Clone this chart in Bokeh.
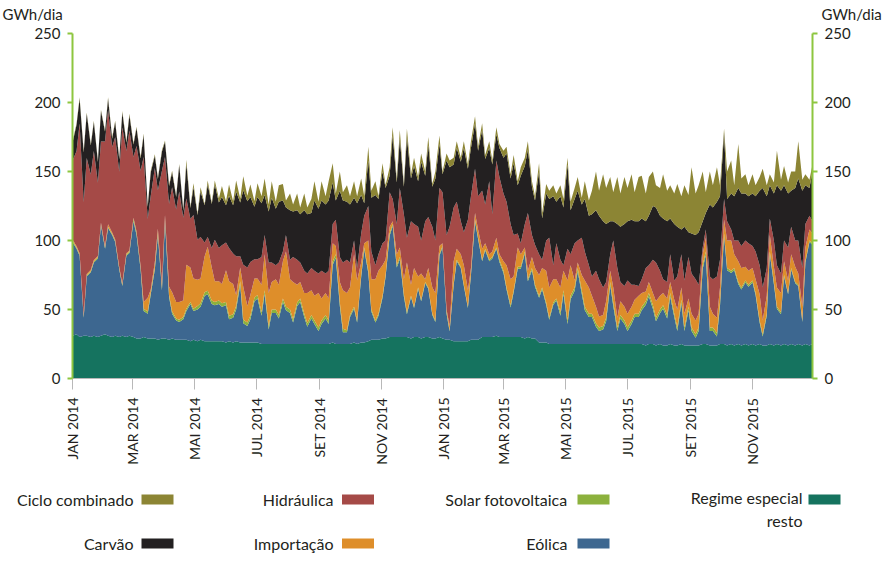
import numpy as np
import pandas as pd
from bokeh.plotting import figure
from bokeh.models import ColumnDataSource, FixedTicker, LinearAxis, Range1d
from bokeh.embed import file_html
from bokeh.resources import INLINE
from bokeh.core.properties import value

# ---------------- DATA (GWh/dia, read on Wednesdays and Sundays) ----------------
wednesdays = pd.date_range("2014-01-01", "2015-12-30", freq="W-WED")
sundays = pd.date_range("2014-01-05", "2015-12-27", freq="W-SUN")
dates = wednesdays.union(sundays)

regime = [
    31,32,30,31,31,30,31,30,31,32, 31,30,31,30,31,30,31,30,29,29, 30,29,29,29,28,29,29,28,29,28,
    28,28,28,27,28,27,28,27,27,27, 27,27,27,26,27,26,27,26,26,26, 26,26,26,
    25,25,25,25,25,25,25,25,25,25, 25,25,25,25,25,25,25,25,25,25,
    26,25,25,25,25,25,26,25,26,26, 27,28,28,28,29,29,30,30,30,30, 30,30,29,30,30,29,30,30,29,29, 30,29,28,28,
    27,27,27,27,27,28,28,28,30,30, 30,30,31,30,30,30,30,30,30,30, 29,30,29,29,26,26,26,25,25,25, 25,
    25,25,25,25,25,25,25,25,25,25, 25,25,25,25,25,25,25,25,25,25, 25,25,
    25,24,25,25,24,25,24,24,25,24, 24,25,24,24,24,24,24,25,25,24, 24,24,25,25,24,25,24,25,24,25,
    24,25,24,25,24,24,25,24,25,24, 25,24,25,24,25,24,25,24,25]

eolica = [
    68,62,59,13,43,47,53,57,80,62, 78,74,68,49,36,59,60,84,75,50, 19,18,32,50,76,35,85,31,18,14,
    13,15,21,27,21,23,24,33,34,27, 26,27,25,27,16,18,23,42,14,12, 17,30,32,
    20.5,36.5,10.5,22.5,22.5,18.5,30.5,24.5,22.5,15.5, 27.5,30.5,19.5,12.5,18.5,14.5,9.5,14.5,18.5,14.5,
    56.5,62.5,27.5,8.5,8.5,19.5,24.5,15.5,47.5,67.5, 49.5,20.5,12.5,17.5,29.5,44.5,73.5,80.5,50.5,56.5,
    29.5,16.5,30,21,35,27,39,35,17,12, 59,66,19,6,
    41,58,53,40,24,47,86,73,55,63, 55,57,63,54.5,46.5,34.5,21.5,32.5,49.5,49.5,
    61.5,40.5,49.5,37.5,32.5,38.5,27.5,17.5,28.5,31.5, 20.5,36.5,14.5,32.5,38.5,52.5,36.5,24.5,19.5,19.5,
    12.5,9.5,10.5,16.5,42.5,27.5,9.5,18.5,14.5,9.5, 14.5,19.5,19.5,
    24.5,29.5,34.5,25.5,17.5,22.5,26.5,19.5,34.5,20.5, 10.5,29.5,10.5,25.5,10.5,5.5,10.5,54.5,64.5,10.5,
    10.5,6.5,27.5,78.5,54.5,51.5,54.5,43.5,40.5,44.5, 42.5,44.5,36.5,15.5,6.5,21.5,65.5,44.5,25.5,22.5,
    49,37,54,45,42,17,59,75,72]

solar = [
    0.8,0.8,0.8,0.8,0.8,0.8,0.8,0.8,0.8,0.8, 0.8,0.8,0.8,0.8,0.8,0.8,0.8,
    1.5,1.5,1.5,1.5,1.5,1.5,1.5,1.5,1.5,1.5, 1.5,1.5,1.5,1.5,1.5,1.5,1.5,1.5,
    2.5,2.5,2.5,2.5,2.5,2.5,2.5,2.5,2.5,2.5, 2.5,2.5,2.5,2.5,2.5,2.5,2.5,2.5,
    2.5,2.5,2.5,2.5,2.5,2.5,2.5,2.5,2.5,2.5, 2.5,2.5,2.5,2.5,2.5,2.5,2.5,2.5,2.5,2.5, 2.5,2.5,2.5,2.5,
    1.5,1.5,1.5,1.5,1.5,1.5,1.5,1.5,1.5,1.5, 1.5,1.5,1.5,1.5,1.5,1.5,1.5,1.5,
    1,1,1,1,1,1,1,1,1,1, 1,1,
    1,1,1,1,1,1,1,1,1,1, 1,1,1,
    1.5,1.5,1.5,1.5,1.5,1.5,1.5,1.5,1.5,1.5, 1.5,1.5,1.5,1.5,1.5,1.5,1.5,
    2.5,2.5,2.5,2.5,2.5,2.5,2.5,2.5,2.5,2.5, 2.5,2.5,2.5,2.5,2.5,2.5,2.5,2.5,2.5,2.5, 2.5,2.5,2.5,
    2.5,2.5,2.5,2.5,2.5,2.5,2.5,2.5,2.5,2.5, 2.5,2.5,2.5,2.5,2.5,2.5,2.5,2.5,2.5,2.5, 2.5,2.5,2.5,
    1.5,1.5,1.5,1.5,1.5,1.5,1.5,1.5,1.5,1.5, 1.5,1.5,1.5,1.5,1.5,1.5,1.5,
    1,1,1,1,1,1,1,1,1]

importacao = [
    1,1,1,1,1,1,1,1,1,1, 2,1,1,1,1,1,1,1,1,1, 5,10,2,4,3,3,3,6,14,12,
    13,12,32,25,22,19,18,26,32,24, 15,14,14,23,25,22,8,10,24,12, 15,14,12,
    20,26,24,20,22,22,27,40,22,27, 13,12,15,22,18,18,25,16,16,16, 13,6,15,28,27,20,38,29,9,3,
    22,22,30,31,22,11,5,2,8,7, 11,36,8,28,8,19,2,14,19,20, 6,2,2,3,
    16,8,9,14,12,4,5,6,8,4, 4,4,7,4,7,16,19,10,14,9, 3,6,8,12,15,14,23,22,17,14,
    18,14,29,22,5,4,11,19,19,13, 12,8,8,12,8,11,7,10,10,10, 10,10,13,
    10,7,8,9,12,10,9,12,8,10, 13,9,10,6,10,10,10,8,10,15, 10,11,11,10,20,22,10,15,14,10,
    10,9,10,19,10,13,12,11,14,14, 10,9,10,11,8,10,10,8,7]

hidraulica = [
    57,69,94,82,84,69,79,53,59,76, 83,62,74,69,113,74,87,44,62,69, 105,57,68,68,28,82,42,60,76,67,
    80,60,48,35,46,29,30,10,7,14, 30,24,28,20,24,22,28,8,16,28, 24,14,14,
    20,14,22,14,10,16,7,12,14,18, 18,14,16,14,16,18,14,20,14,20, 14,19,18,20,24,18,10,9,21,20,
    25,20,10,12,16,14,25,16,22,43, 47,18,46,32,36,24,42,37,44,38, 42,37,54,72,
    39,34,24,24,51,52,32,24,42,28, 53,27,56,56,49,46,40,30,10,8, 17,42,16,17,15,6,22,36,10,26,
    20,4,23,8,27,16,27,21,16,14, 26,27,20,14,12,34,36,14,15,24, 16,11,7,
    10,17,12,24,28,18,10,12,20,14, 24,24,24,30,29,30,21,5,6,22, 25,30,20,15,14,8,10,15,16,19,
    20,16,20,21,24,20,12,19,16,14, 15,24,20,19,24,28,17,10,9]

carvao = [
    13,19,18,36,32,21,21,15,22,7, 8,6,11,9,11,6,11,9,13,9, 16,9,17,9,8,14,11,13,11,9,
    19,5,25,8,20,18,33,27,38,32, 40,33,35,27,38,35,47,39,54,48, 47,38,45,
    39,29,37,47,41,44,37,20,36,33, 36,35,44,43,40,51,47,51,50,51, 30,14,48,45,42,42,31,47,28,9,
    33,39,51,40,52,38,12,46,30,36, 20,73,31,42,33,57,33,52,29,45, 32,13,54,43,
    31,39,43,61,37,35,33,33,44,33, 24,36,19,21,26,35,33,52,35,49, 42,46,35,32,60,30,34,28,50,30,
    46,42,61,32,32,36,24,38,36,45, 44,46,48,42,24,14,32,40,45,43, 47,46,47,
    44,34,36,39,40,40,44,44,26,41, 36,18,39,18,29,32,38,19,12,52, 52,54,46,48,16,26,32,38,38,34,
    34,38,40,54,72,52,24,34,58,60, 40,39,26,38,45,56,28,20,36]

ciclo = [
    1,1,1,1,1,1,1,1,1,1, 1,1,1,1,1,1,1,1,1,1, 1,1,1,1,1,1,1,1,1,1,
    1,1,3,1,3,1,3,1,3,1, 3,3,8,3,8,3,8,3,10,4, 9,4,10,
    5,12,5,12,5,12,12,5,12,5, 12,5,12,5,10,14,5,14,6,14, 14,5,14,6,12,6,12,5,12,5,
    10,5,10,2,6,2,6,6,3,6, 2,6,3,6,3,6,3,6,2,5, 6,2,5,5,
    5,5,3,5,3,5,5,3,5,3, 5,3,5,3,5,5,3,6,3,6, 6,6,4,3,6,4,7,6,8,6,
    8,6,5,6,8,10,5,13,11,17, 28,18,34,26,32,21,34,24,34,24, 33,21,32,
    31,20,28,25,16,20,32,22,24,22, 31,24,30,27,48,30,34,36,15,24, 16,25,8,3,20,24,8,32,11,14,
    8,14,8,10,14,8,8,8,25,8, 14,8,14,12,27,8,8,6,5]

series_keys = ["regime", "eolica", "solar", "importacao", "hidraulica", "carvao", "ciclo"]
series_names = ["Regime especial resto", "Eólica", "Solar fotovoltaica", "Importação",
                "Hidráulica", "Carvão", "Ciclo combinado"]
series_colors = ["#15735F", "#3D6790", "#8CB13D", "#DE8E2A", "#A54A47", "#232021", "#8C8534"]

tick_dates = ["2014-01-01", "2014-03-01", "2014-05-01", "2014-07-01", "2014-09-01", "2014-11-01",
              "2015-01-01", "2015-03-01", "2015-05-01", "2015-07-01", "2015-09-01", "2015-11-01"]
tick_labels = ["JAN 2014", "MAR 2014", "MAI 2014", "JUL 2014", "SET 2014", "NOV 2014",
               "JAN 2015", "MAR 2015", "MAI 2015", "JUL 2015", "SET 2015", "NOV 2015"]
y_ticks = [0, 50, 100, 150, 200, 250]
unit_label = "GWh/dia"

# ---------------- STYLE ----------------
FONT = "Lato"
TXT = "#231f20"
GREEN = "#8DC63F"
W = 884

# ---------------- UNIT LABELS STRIP ----------------
pt = figure(width=W, height=25, x_range=Range1d(0, W), y_range=Range1d(25, 0),
            output_backend="svg", toolbar_location=None, min_border=0,
            x_axis_location=None, y_axis_location=None)
pt.outline_line_color = None
pt.grid.visible = False
pt.text(x=[2, 821], y=[13, 13], text=[unit_label, unit_label], text_align="left",
        text_baseline="middle", text_font=value(FONT), text_font_size="15px", text_color=TXT)

# ---------------- MAIN CHART ----------------
data = dict(date=dates, regime=regime, eolica=eolica, solar=solar, importacao=importacao,
            hidraulica=hidraulica, carvao=carvao, ciclo=ciclo)
source = ColumnDataSource(data)

x_start = pd.Timestamp("2014-01-01")
x_end = pd.Timestamp("2015-12-30")

p = figure(width=W, height=445, x_axis_type="datetime",
           x_range=Range1d(x_start, x_end), y_range=Range1d(0, 250),
           output_backend="svg", toolbar_location=None, title=None,
           min_border_left=72, min_border_right=72, min_border_top=8, min_border_bottom=92)
p.outline_line_color = None
p.xgrid.visible = False
p.ygrid.visible = False

p.varea_stack(stackers=series_keys, x="date", color=series_colors, source=source)

tick_ms = [int(pd.Timestamp(d).value // 10**6) for d in tick_dates]
xa = p.xaxis[0]
xa.ticker = FixedTicker(ticks=tick_ms)
xa.major_label_overrides = {t: l for t, l in zip(tick_ms, tick_labels)}
xa.major_label_orientation = np.pi / 2
xa.axis_line_color = "#b8b8b8"
xa.major_tick_line_color = "#b8b8b8"
xa.major_tick_out = 11
xa.major_tick_in = 0
xa.minor_tick_line_color = None
xa.major_label_standoff = 8
xa.major_label_text_font = FONT
xa.major_label_text_font_size = "14px"
xa.major_label_text_color = TXT

def style_y(ax):
    ax.ticker = FixedTicker(ticks=y_ticks)
    ax.axis_line_color = GREEN
    ax.axis_line_width = 2
    ax.major_tick_line_color = GREEN
    ax.major_tick_line_width = 2
    ax.major_tick_out = 5
    ax.major_tick_in = 0
    ax.minor_tick_line_color = None
    ax.major_label_standoff = 7
    ax.major_label_text_font = FONT
    ax.major_label_text_font_size = "15px"
    ax.major_label_text_color = TXT

style_y(p.yaxis[0])
right_axis = LinearAxis()
style_y(right_axis)
p.add_layout(right_axis, "right")

# ---------------- LEGEND (label left of swatch) ----------------
legend_order = [6, 4, 2, 0, 5, 3, 1]
legend_text = [series_names[i] for i in legend_order]
legend_text[3] = "Regime especial\nresto"
legend_col = [series_colors[i] for i in legend_order]
text_right = [133, 333, 567, 802, 133, 333, 567]
text_y = [29, 29, 29, 38.5, 73, 73, 73]
sw_x = [157, 357.5, 593, 824, 157, 357.5, 593]
sw_y = [29, 29, 29, 29, 73, 73, 73]

pl = figure(width=W, height=95, x_range=Range1d(0, W), y_range=Range1d(95, 0),
            output_backend="svg", toolbar_location=None, min_border=0,
            x_axis_location=None, y_axis_location=None)
pl.outline_line_color = None
pl.grid.visible = False
leg_src = ColumnDataSource(dict(tx=text_right, ty=text_y, text=legend_text,
                                sx=sw_x, sy=sw_y, color=legend_col))
pl.rect(x="sx", y="sy", width=32, height=10, fill_color="color", line_color=None, source=leg_src)
pl.text(x="tx", y="ty", text="text", text_align="right", text_baseline="middle",
        text_font=value(FONT), text_font_size="16px", text_color=TXT, source=leg_src)

# separate roots so that the frames are not aligned with each other
open("out.html", "w").write(file_html([pt, p, pl], INLINE))
